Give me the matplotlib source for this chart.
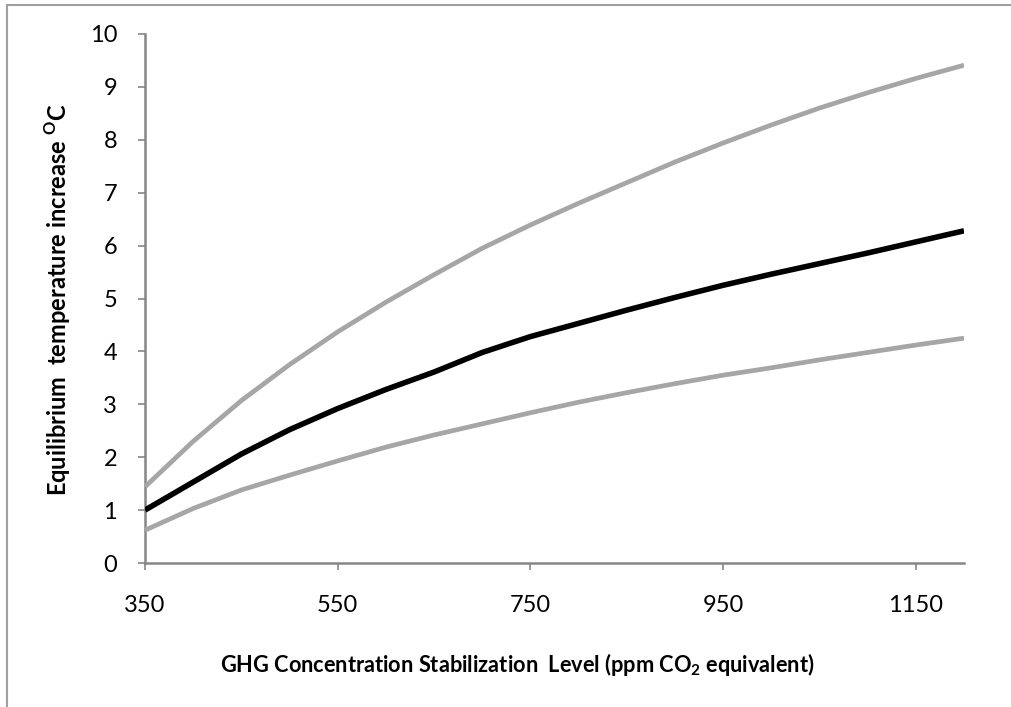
import matplotlib
matplotlib.use("Agg")
import matplotlib.pyplot as plt
from matplotlib.patches import Rectangle

plt.rcParams['font.family'] = ['Lato', 'DejaVu Sans']

ppm = [350, 400, 450, 500, 550, 600, 650, 700, 750, 800, 850, 900, 950,
       1000, 1050, 1100, 1150, 1200]
upper = [1.44, 2.30, 3.07, 3.75, 4.37, 4.93, 5.45, 5.95, 6.39, 6.80, 7.19,
         7.58, 7.94, 8.28, 8.60, 8.89, 9.16, 9.41]
central = [1.0, 1.53, 2.06, 2.52, 2.92, 3.28, 3.61, 3.98, 4.28, 4.53, 4.78,
           5.02, 5.25, 5.46, 5.66, 5.86, 6.07, 6.28]
lower = [0.62, 1.03, 1.38, 1.66, 1.93, 2.19, 2.42, 2.63, 2.84, 3.04, 3.22,
         3.39, 3.55, 3.69, 3.84, 3.98, 4.12, 4.25]

xticks = [350, 550, 750, 950, 1150]
yticks = list(range(0, 11))

W, H = 1011, 707
fig = plt.figure(figsize=(W / 100, H / 100), dpi=100)
ax = fig.add_axes([145 / W, 1 - 563 / H, (964 - 145) / W, (563 - 34) / H])

grey = '#A6A6A6'
ax.plot(ppm, upper, color=grey, lw=3.4, solid_capstyle='butt',
        solid_joinstyle='round', zorder=3)
ax.plot(ppm, lower, color=grey, lw=3.4, solid_capstyle='butt',
        solid_joinstyle='round', zorder=3)
ax.plot(ppm, central, color='black', lw=4.0, solid_capstyle='butt',
        solid_joinstyle='round', zorder=4)

ax.set_xlim(350, 1200)
ax.set_ylim(0, 10)
ax.set_xticks(xticks)
ax.set_yticks(yticks)
ax.set_xticklabels([str(v) for v in xticks])
ax.set_yticklabels([str(v) for v in yticks])

for s in ['top', 'right']:
    ax.spines[s].set_visible(False)
for s in ['left', 'bottom']:
    ax.spines[s].set_color('#868686')
    ax.spines[s].set_linewidth(1.8)
ax.tick_params(axis='both', direction='out', color='#868686', width=1.2,
               length=5, labelsize=17, labelcolor='black')
ax.tick_params(axis='x', pad=18)
ax.tick_params(axis='y', pad=15)

fig.text(58 / W, 1 - 300 / H,
         'Equilibrium  temperature increase $^{\\mathregular{O}}$C',
         rotation=90, ha='center', va='center', fontsize=17,
         fontweight='bold')
fig.text(517 / W, 1 - 665 / H,
         'GHG Concentration Stabilization  Level (ppm CO$_{\\mathregular{2}}$ equivalent)',
         ha='center', va='center', fontsize=15.7, fontweight='bold')

fig.patches.append(Rectangle((7 / W, -0.1), 1.2, 1 - 5 / H + 0.1,
                             transform=fig.transFigure, fill=False,
                             edgecolor='#A0A0A0', lw=1.5))

fig.savefig('out.png', dpi=100)
